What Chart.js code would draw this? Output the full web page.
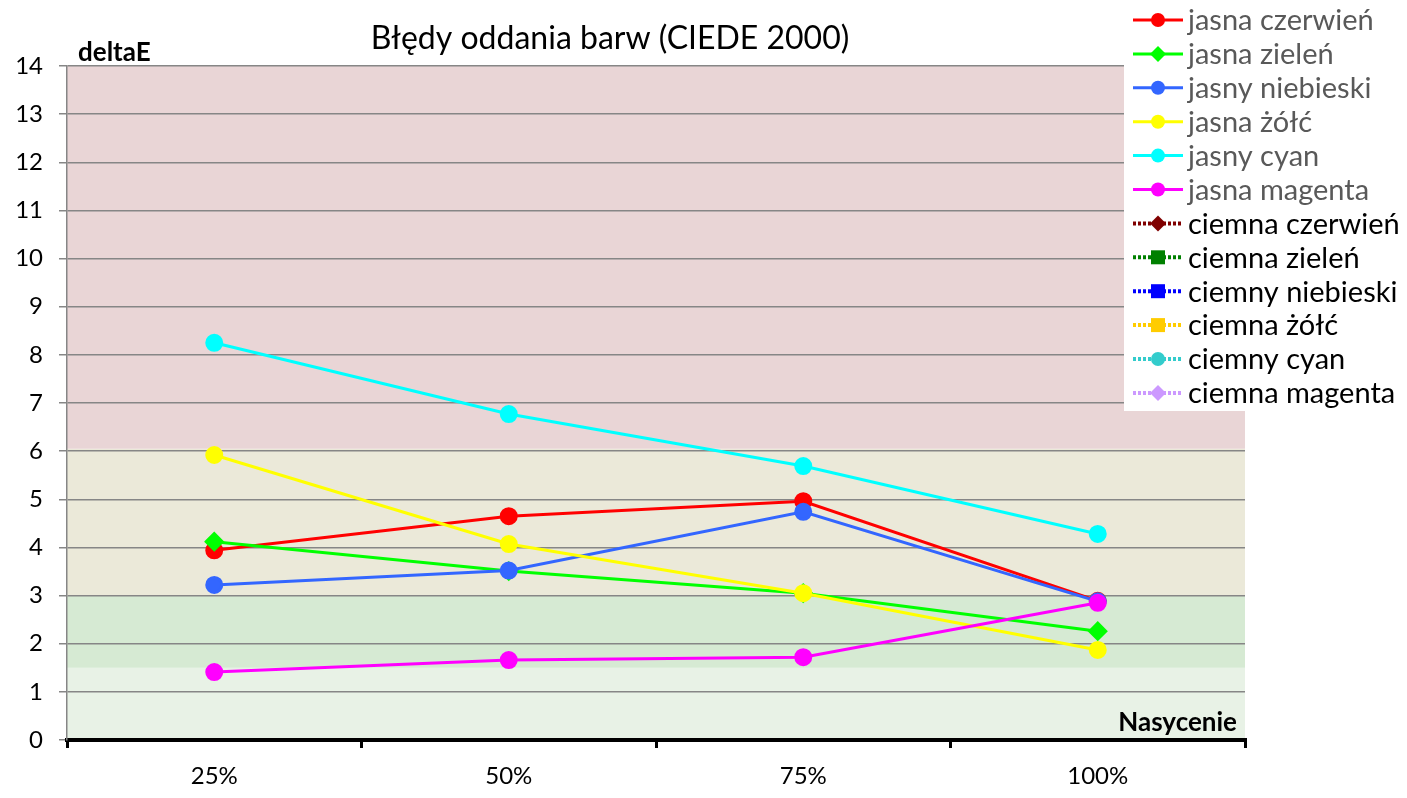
<!DOCTYPE html>
<html>
<head>
<meta charset="utf-8">
<script src="https://cdn.jsdelivr.net/npm/chart.js@4"></script>
<style>
  html, body { margin: 0; padding: 0; background: #fff; }
  #wrap { width: 1407px; height: 798px; position: relative; }
</style>
</head>
<body>
<div id="wrap"><canvas id="c"></canvas></div>
<script>
// categories (saturation)
const categories = ['25%', '50%', '75%', '100%'];

// light colours
const jasnaCzerwien = [3.94, 4.65, 4.96, 2.89];
const jasnaZielen = [4.12, 3.51, 3.05, 2.26];
const jasnyNiebieski = [3.22, 3.52, 4.74, 2.88];
const jasnaZolc = [5.92, 4.07, 3.05, 1.87];
const jasnyCyan = [8.25, 6.77, 5.69, 4.28];
const jasnaMagenta = [1.41, 1.66, 1.72, 2.85];

// dark colours - only in legend, no values shown on the chart
const ciemnaCzerwien = [null, null, null, null];
const ciemnaZielen = [null, null, null, null];
const ciemnyNiebieski = [null, null, null, null];
const ciemnaZolc = [null, null, null, null];
const ciemnyCyan = [null, null, null, null];
const ciemnaMagenta = [null, null, null, null];

const yTicks = [0, 1, 2, 3, 4, 5, 6, 7, 8, 9, 10, 11, 12, 13, 14];

const FONT = 'Lato, "Open Sans", sans-serif';

let seriesCount = 0;
function ds(label, data, color, style, dash, dark) {
  seriesCount++;
  return {
    label: label, data: data,
    borderColor: color, backgroundColor: color,
    pointStyle: style, borderWidth: 3,
    pointRadius: style === 'rectRot' ? 8 : 7.5, pointHoverRadius: 7.5,
    borderDash: dash || [], dark: !!dark,
    order: 100 - seriesCount // later series on top, like the original
  };
}

// quality bands behind the plot
const bands = [
  { from: 0, to: 1.5, color: '#e8f2e6' },
  { from: 1.5, to: 3, color: '#d6ead3' },
  { from: 3, to: 6.05, color: '#ebe9d9' },
  { from: 6.05, to: 14, color: '#e9d5d6' }
];

const bandsPlugin = {
  id: 'bands',
  beforeDraw(chart) {
    const { ctx, chartArea, scales } = chart;
    ctx.save();
    bands.forEach(b => {
      const y1 = scales.y.getPixelForValue(b.to);
      const y2 = scales.y.getPixelForValue(b.from);
      ctx.fillStyle = b.color;
      ctx.fillRect(chartArea.left, y1, chartArea.right - chartArea.left, y2 - y1);
    });
    ctx.restore();
  }
};

// title, axis captions and the legend box drawn on top
const extrasPlugin = {
  id: 'extras',
  afterDraw(chart) {
    const { ctx, chartArea } = chart;
    ctx.save();
    ctx.fillStyle = '#000';
    ctx.font = '32px ' + FONT;
    ctx.textAlign = 'center';
    ctx.textBaseline = 'middle';
    ctx.fillText('Błędy oddania barw (CIEDE 2000)', 610, 39);

    ctx.font = 'bold 26px ' + FONT;
    ctx.textAlign = 'left';
    ctx.fillText('deltaE', chartArea.left + 11, 53);
    ctx.textAlign = 'right';
    ctx.fillText('Nasycenie', chartArea.right - 8, 723);

    // legend
    const lx = 1124, ly = 0, lw = 283, lh = 411;
    ctx.fillStyle = '#fff';
    ctx.fillRect(lx, ly, lw, lh);
    ctx.font = '29px ' + FONT;
    ctx.textAlign = 'left';
    chart.data.datasets.forEach((d, i) => {
      const y = 20 + i * 33.9;
      ctx.strokeStyle = d.borderColor;
      ctx.lineWidth = d.dark ? 4 : 3;
      ctx.setLineDash(d.dark ? [3, 2] : []);
      ctx.beginPath();
      ctx.moveTo(1133, y);
      ctx.lineTo(1183, y);
      ctx.stroke();
      ctx.setLineDash([]);
      ctx.fillStyle = d.borderColor;
      const r = 7;
      ctx.beginPath();
      if (d.pointStyle === 'circle') {
        ctx.arc(1158, y, r, 0, Math.PI * 2);
      } else if (d.pointStyle === 'rectRot') {
        ctx.moveTo(1158, y - r - 1); ctx.lineTo(1158 + r + 1, y);
        ctx.lineTo(1158, y + r + 1); ctx.lineTo(1158 - r - 1, y);
        ctx.closePath();
      } else {
        ctx.rect(1158 - r, y - r, 2 * r, 2 * r);
      }
      ctx.fill();
      ctx.fillStyle = d.dark ? '#000' : '#595959';
      ctx.fillText(d.label, 1188, y + 1);
    });
    ctx.restore();
  }
};

new Chart(document.getElementById('c'), {
  type: 'line',
  data: {
    labels: categories,
    datasets: [
      ds('jasna czerwień', jasnaCzerwien, '#ff0000', 'circle'),
      ds('jasna zieleń', jasnaZielen, '#00ff00', 'rectRot'),
      ds('jasny niebieski', jasnyNiebieski, '#3366ff', 'circle'),
      ds('jasna żółć', jasnaZolc, '#ffff00', 'circle'),
      ds('jasny cyan', jasnyCyan, '#00ffff', 'circle'),
      ds('jasna magenta', jasnaMagenta, '#ff00ff', 'circle'),
      ds('ciemna czerwień', ciemnaCzerwien, '#800000', 'rectRot', [3, 2], true),
      ds('ciemna zieleń', ciemnaZielen, '#008000', 'rect', [3, 2], true),
      ds('ciemny niebieski', ciemnyNiebieski, '#0000ff', 'rect', [3, 2], true),
      ds('ciemna żółć', ciemnaZolc, '#ffcc00', 'rect', [3, 2], true),
      ds('ciemny cyan', ciemnyCyan, '#33cccc', 'circle', [2, 1], true),
      ds('ciemna magenta', ciemnaMagenta, '#cc99ff', 'rectRot', [3, 2], true)
    ]
  },
  options: {
    responsive: true,
    maintainAspectRatio: false,
    animation: false,
    layout: { padding: { top: 66, right: 162, left: 0, bottom: 0 } },
    plugins: { legend: { display: false }, tooltip: { enabled: false } },
    scales: {
      x: {
        offset: true,
        afterFit(s) { s.height = 58; },
        grid: { drawOnChartArea: false, color: '#000', lineWidth: 3, tickLength: 8, offset: true },
        border: { color: '#000', width: 4 },
        ticks: { color: '#000', font: { family: FONT, size: 24 }, padding: 14 }
      },
      y: {
        min: 0, max: 14,
        afterFit(s) { s.width = 67; },
        afterBuildTicks(s) { s.ticks = yTicks.map(v => ({ value: v })); },
        grid: { color: '#868686', lineWidth: 1.5, tickLength: 8 },
        border: { color: '#868686', width: 1.5 },
        ticks: { color: '#000', font: { family: FONT, size: 24 }, padding: 16 }
      }
    }
  },
  plugins: [bandsPlugin, extrasPlugin]
});
</script>
</body>
</html>
